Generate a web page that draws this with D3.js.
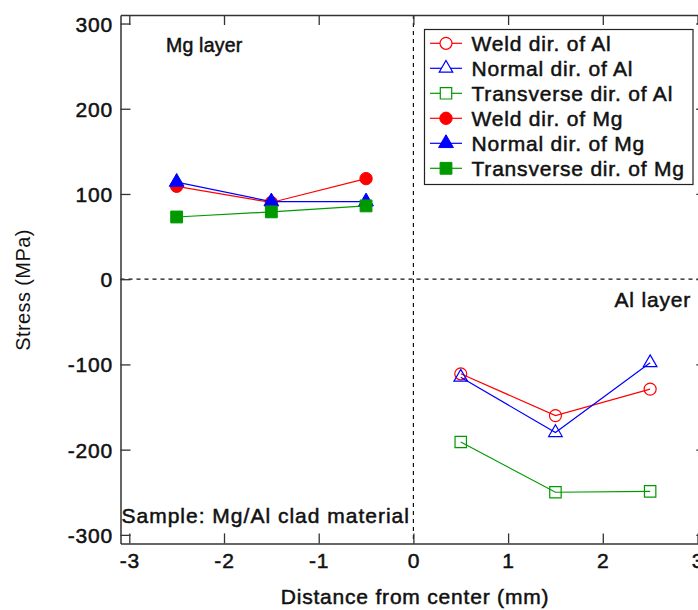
<!DOCTYPE html>
<html>
<head>
<meta charset="utf-8">
<script src="https://d3js.org/d3.v7.min.js"></script>
<style>
  body { margin: 0; background: #fff; }
  svg { display: block; }
  text { font-family: "Liberation Sans", Arial, Helvetica, sans-serif; fill: #111; }
</style>
</head>
<body>
<svg id="chart" width="698" height="610"></svg>
<script>
// data
var xMg = [-2.5, -1.5, -0.5];
var xAl = [0.5, 1.5, 2.5];
var weldAl = [-111, -160, -129];
var normalAl = [-115, -180, -98];
var transAl = [-191, -250, -249];
var weldMg = [109, 90, 118];
var normalMg = [114, 91, 91];
var transMg = [73, 79, 86];
var xTicks = [-3, -2, -1, 0, 1, 2, 3];
var yTicks = [-300, -200, -100, 0, 100, 200, 300];
var legendLabels = ["Weld dir. of Al", "Normal dir. of Al", "Transverse dir. of Al",
                    "Weld dir. of Mg", "Normal dir. of Mg", "Transverse dir. of Mg"];

var RED = "#ff0000", BLUE = "#0000ff", GREEN = "#009a00";

var series = [
  {label: legendLabels[0], xs: xAl, ys: weldAl, color: RED, shape: d3.symbolCircle, size: 113, filled: false},
  {label: legendLabels[1], xs: xAl, ys: normalAl, color: BLUE, shape: d3.symbolTriangle, size: 80, filled: false},
  {label: legendLabels[2], xs: xAl, ys: transAl, color: GREEN, shape: d3.symbolSquare, size: 130, filled: false},
  {label: legendLabels[3], xs: xMg, ys: weldMg, color: RED, shape: d3.symbolCircle, size: 120, filled: true},
  {label: legendLabels[4], xs: xMg, ys: normalMg, color: BLUE, shape: d3.symbolTriangle, size: 95, filled: true},
  {label: legendLabels[5], xs: xMg, ys: transMg, color: GREEN, shape: d3.symbolSquare, size: 140, filled: true}
];

var pLeft = 120.5, pRight = 706.3, pTop = 15, pBottom = 543.4;

var x = d3.scaleLinear().domain([-3.093, 3.093]).range([pLeft, pRight]);
var y = d3.scaleLinear().domain([-310, 310]).range([pBottom, pTop]);

var svg = d3.select("#chart");
var FONT = 21;
var fmt = function(d) { return String(d); };

function styleText(sel) {
  return sel.attr("font-size", FONT)
     .attr("font-family", "Liberation Sans, Arial, sans-serif")
     .attr("letter-spacing", 0.8)
     .attr("fill", "#111")
     .attr("stroke", "#111")
     .attr("stroke-width", 0.5);
}

// dashed zero lines
svg.append("line")
  .attr("x1", pLeft).attr("x2", pRight)
  .attr("y1", y(0)).attr("y2", y(0))
  .attr("stroke", "#111").attr("stroke-width", 1.2)
  .attr("stroke-dasharray", "4,4");
svg.append("line")
  .attr("x1", x(0)).attr("x2", x(0))
  .attr("y1", pTop).attr("y2", pBottom)
  .attr("stroke", "#111").attr("stroke-width", 1.2)
  .attr("stroke-dasharray", "4,4");

// axes (ticks inward on all four sides)
var gx = svg.append("g")
  .attr("transform", "translate(0," + pBottom + ")")
  .call(d3.axisBottom(x).tickValues(xTicks).tickFormat(fmt).tickSize(-10).tickSizeOuter(0).tickPadding(9.6));
var gxt = svg.append("g")
  .attr("transform", "translate(0," + pTop + ")")
  .call(d3.axisTop(x).tickValues(xTicks).tickSize(-10).tickSizeOuter(0).tickFormat(""));
var gy = svg.append("g")
  .attr("transform", "translate(" + pLeft + ",0)")
  .call(d3.axisLeft(y).tickValues(yTicks).tickFormat(fmt).tickSize(-10).tickSizeOuter(0).tickPadding(7.5));
var gyr = svg.append("g")
  .attr("transform", "translate(" + pRight + ",0)")
  .call(d3.axisRight(y).tickValues(yTicks).tickSize(-10).tickSizeOuter(0).tickFormat(""));

[gx, gxt, gy, gyr].forEach(function(g) {
  g.selectAll("path.domain").attr("stroke", "#333").attr("stroke-width", 1.5);
  g.selectAll(".tick line").attr("stroke", "#333").attr("stroke-width", 1.3);
});
styleText(gx.selectAll(".tick text"));
styleText(gy.selectAll(".tick text")).attr("dy", "0.36em");

// axis titles
styleText(svg.append("text")
  .attr("x", 415).attr("y", 604)
  .attr("text-anchor", "middle")
  .text("Distance from center (mm)"));

svg.append("text")
  .attr("transform", "translate(30,290) rotate(-90)")
  .attr("text-anchor", "middle")
  .attr("font-size", 20)
  .attr("letter-spacing", 0.4)
  .attr("fill", "#222")
  .text("Stress (MPa)");

// annotations
styleText(svg.append("text").attr("x", 166).attr("y", 52).text("Mg layer"))
  .attr("font-size", 19.5).attr("letter-spacing", 0.2);
styleText(svg.append("text").attr("x", 691).attr("y", 306.5)
  .attr("text-anchor", "end").text("Al layer"));
styleText(svg.append("text").attr("x", 121.5).attr("y", 522.5)
  .text("Sample: Mg/Al clad material"))
  .attr("letter-spacing", 1);

// series lines and markers
var line = d3.line()
  .x(function(d) { return x(d[0]); })
  .y(function(d) { return y(d[1]); });

series.forEach(function(s) {
  var pts = s.xs.map(function(v, i) { return [v, s.ys[i]]; });
  var g = svg.append("g");
  g.append("path")
    .datum(pts)
    .attr("d", line)
    .attr("fill", "none")
    .attr("stroke", s.color)
    .attr("stroke-width", 1.2);
  g.selectAll("path.mark")
    .data(pts)
    .enter().append("path")
    .attr("class", "mark")
    .attr("transform", function(d) { return "translate(" + x(d[0]) + "," + y(d[1]) + ")"; })
    .attr("d", d3.symbol().type(s.shape).size(s.size))
    .attr("fill", s.filled ? s.color : "none")
    .attr("stroke", s.color)
    .attr("stroke-width", s.filled ? 1 : 1.2);
});

// legend
var lg = svg.append("g");
lg.append("rect")
  .attr("x", 424.5).attr("y", 29.5)
  .attr("width", 268.5).attr("height", 155)
  .attr("fill", "#fff")
  .attr("stroke", "#222").attr("stroke-width", 1.2);

series.forEach(function(s, i) {
  var cy = 43.3 + i * 25;
  lg.append("line")
    .attr("x1", 430).attr("x2", 462)
    .attr("y1", cy).attr("y2", cy)
    .attr("stroke", s.color).attr("stroke-width", 1.2);
  lg.append("path")
    .attr("transform", "translate(446," + cy + ")")
    .attr("d", d3.symbol().type(s.shape).size(s.size))
    .attr("fill", s.filled ? s.color : "#fff")
    .attr("stroke", s.color)
    .attr("stroke-width", s.filled ? 1 : 1.2);
  styleText(lg.append("text")
    .attr("x", 471.5).attr("y", cy + 7.5)
    .text(s.label));
});
</script>
</body>
</html>
